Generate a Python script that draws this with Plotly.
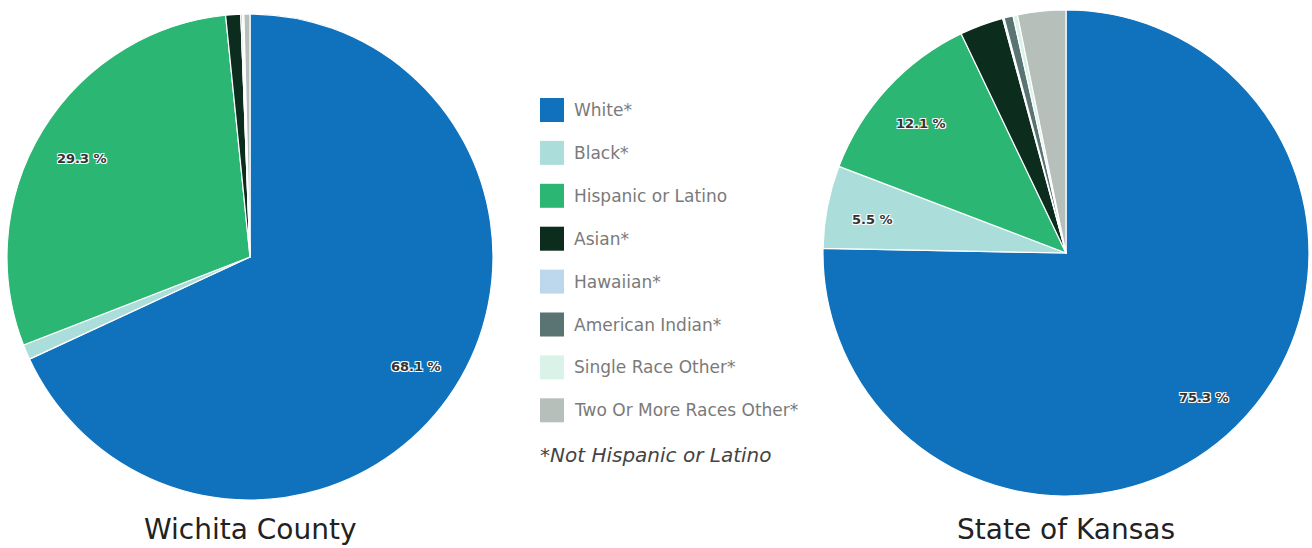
import math
import plotly.graph_objects as go

# Population share by race / ethnicity (percent)
categories = ["White*", "Black*", "Hispanic or Latino", "Asian*", "Hawaiian*",
              "American Indian*", "Single Race Other*", "Two Or More Races Other*"]
wichita_county = [68.1, 1.0, 29.3, 1.0, 0.0, 0.1, 0.1, 0.4]
state_of_kansas = [75.3, 5.5, 12.1, 2.9, 0.1, 0.6, 0.3, 3.2]
colors = ["#1072BC", "#ABDEDA", "#2BB673", "#0C2D1E", "#BDD8EC",
          "#5A7373", "#DAF3E8", "#B6BFBA"]
footnote = "*Not Hispanic or Latino"

W, H = 1312, 548
FONT = "DejaVu Sans"
LABEL_MIN = 5.0      # only slices of at least this share get a value label
LABEL_RADIUS = 0.81  # label distance from the centre, as a fraction of the radius


def px_x(x):
    return x / W


def px_y(y):
    # pixel measured from top -> paper coordinate
    return 1 - y / H


def pie(values, name, cx, cy, r):
    return go.Pie(
        labels=categories,
        values=values,
        name=name,
        sort=False,
        direction="clockwise",
        rotation=0,
        marker=dict(colors=colors, line=dict(color="white", width=1.2)),
        textinfo="none",
        hoverinfo="label+percent",
        showlegend=False,
        domain=dict(x=[px_x(cx - r), px_x(cx + r)], y=[px_y(cy + r), px_y(cy - r)]),
    )


def value_labels(values, cx, cy, r):
    """Value labels placed along each slice's bisector (clockwise from 12 o'clock)."""
    out = []
    total = sum(values)
    cum = 0.0
    for v in values:
        mid = (cum + v / 2) / total * 2 * math.pi
        cum += v
        if v < LABEL_MIN:
            continue
        x = cx + LABEL_RADIUS * r * math.sin(mid)
        y = cy - LABEL_RADIUS * r * math.cos(mid)
        out.append(dict(
            text=f"<b>{v} %</b>", x=px_x(x), y=px_y(y), xref="paper", yref="paper",
            showarrow=False, xanchor="center", yanchor="middle", yshift=-4,
            font=dict(family=FONT, size=13, color="#333333",
                      shadow="-1px -1px 0 #fff, 1px -1px 0 #fff, -1px 1px 0 #fff, 1px 1px 0 #fff"),
        ))
    return out


pies = [
    ("Wichita County", wichita_county, 250, 257, 243),
    ("State of Kansas", state_of_kansas, 1066, 253, 243),
]

fig = go.Figure()
annotations = []
for name, vals, cx, cy, r in pies:
    fig.add_trace(pie(vals, name, cx, cy, r))
    annotations += value_labels(vals, cx, cy, r)
    annotations.append(dict(text=name, x=px_x(cx), y=px_y(529), xref="paper", yref="paper",
                            showarrow=False, xanchor="center", yanchor="middle",
                            font=dict(family=FONT, size=28, color="#222222")))

shapes = []

# Legend built from the category and colour lists
row0, pitch = 110, 42.9
for i, (cat, col) in enumerate(zip(categories, colors)):
    yc = row0 + i * pitch
    shapes.append(dict(type="rect", xref="paper", yref="paper",
                       x0=px_x(540), x1=px_x(564), y0=px_y(yc + 12), y1=px_y(yc - 12),
                       fillcolor=col, line=dict(width=0)))
    annotations.append(dict(text=cat, x=px_x(572), y=px_y(yc), xref="paper", yref="paper",
                            showarrow=False, xanchor="left", yanchor="middle",
                            font=dict(family=FONT, size=17, color="#7a7a7a")))

annotations.append(dict(text=f"<i>{footnote}</i>", x=px_x(538), y=px_y(455),
                        xref="paper", yref="paper", showarrow=False,
                        xanchor="left", yanchor="middle",
                        font=dict(family=FONT, size=20, color="#444444")))

fig.update_layout(
    width=W, height=H,
    margin=dict(l=0, r=0, t=0, b=0),
    paper_bgcolor="white", plot_bgcolor="white",
    annotations=annotations, shapes=shapes,
    showlegend=False,
)

fig.write_html("out.html")
